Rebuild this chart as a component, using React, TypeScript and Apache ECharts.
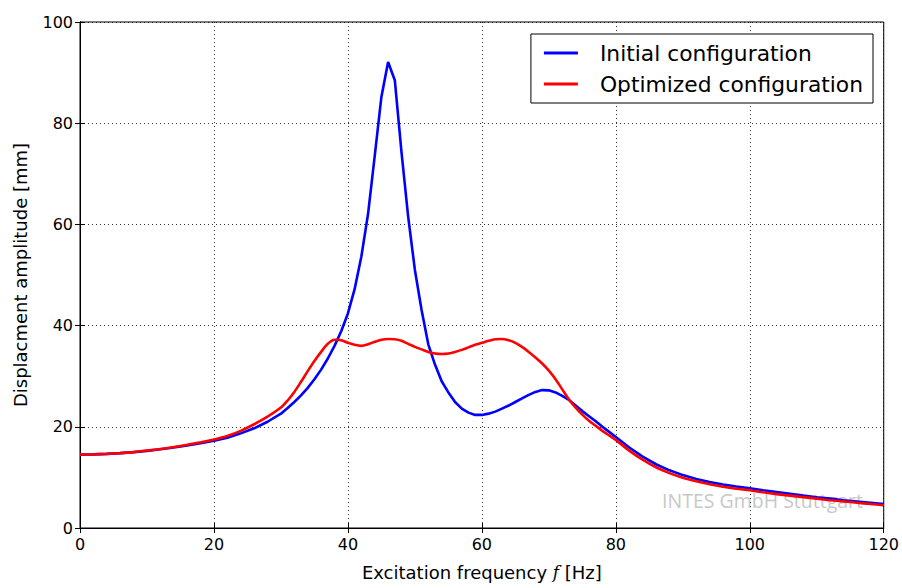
import React, { useEffect, useRef } from "react";
import * as echarts from "echarts";

const frequency = [
  0, 2, 4, 6, 8, 10, 12, 14, 16, 18, 20, 22, 24, 26, 28, 30,
  31, 32, 33, 34, 35, 36, 37, 38, 39, 40, 41, 42, 43, 44, 45, 46, 47, 48, 49, 50,
  51, 52, 53, 54, 55, 56, 57, 58, 59, 60, 61, 62, 63, 64, 65, 66, 67, 68, 69, 70,
  71, 72, 73, 74, 75, 76, 77, 78, 79, 80,
  82, 84, 86, 88, 90, 92, 94, 96, 98, 100, 102, 104, 106, 108, 110, 112, 114, 116, 118, 120,
];

const initialConfiguration = [
  14.5, 14.55, 14.65, 14.8, 15.0, 15.25, 15.55, 15.9, 16.3, 16.75, 17.25, 17.85, 18.7, 19.7, 21.0, 22.6,
  23.7, 24.9, 26.2, 27.7, 29.4, 31.3, 33.5, 36.0, 38.9, 42.4, 47.2, 53.6, 62.0, 73.5, 85.2, 92.1, 88.5, 74.3, 61.5, 51.0,
  43.1, 36.3, 32.3, 29.0, 26.8, 24.9, 23.6, 22.8, 22.35, 22.35, 22.6, 23.0, 23.6, 24.2, 24.9, 25.6, 26.3, 26.9, 27.25, 27.2,
  26.8, 26.1, 25.3, 24.2, 23.1, 22.1, 21.1, 20.0, 19.0, 18.0,
  15.9, 14.1, 12.6, 11.4, 10.45, 9.7, 9.1, 8.6, 8.2, 7.85, 7.45, 7.1, 6.75, 6.4, 6.08, 5.8, 5.5, 5.25, 5.0, 4.75,
];

const optimizedConfiguration = [
  14.5, 14.55, 14.65, 14.8, 15.0, 15.3, 15.6, 16.0, 16.45, 16.95, 17.5, 18.2, 19.2, 20.5, 22.0, 23.8,
  25.2, 26.9, 28.9, 31.0, 33.0, 34.8, 36.4, 37.2, 37.1, 36.6, 36.2, 36.0, 36.3, 36.8, 37.2, 37.35, 37.3, 37.0, 36.4, 35.8,
  35.3, 34.8, 34.5, 34.4, 34.5, 34.8, 35.2, 35.7, 36.2, 36.6, 37.0, 37.3, 37.35, 37.1, 36.6, 35.8, 34.8, 33.7, 32.5, 31.1,
  29.4, 27.4, 25.4, 23.8, 22.4, 21.2, 20.2, 19.2, 18.3, 17.4,
  15.3, 13.5, 12.0, 10.85, 9.95, 9.25, 8.65, 8.15, 7.75, 7.45, 7.05, 6.7, 6.4, 6.1, 5.8, 5.5, 5.25, 5.0, 4.75, 4.5,
];

const seriesNames = ["Initial configuration", "Optimized configuration"];
const seriesColors = ["#0000ff", "#ff0000"];
const xRange = [0, 120, 20];
const yRange = [0, 100, 20];

export default function App() {
  const ref = useRef<HTMLDivElement>(null);
  useEffect(() => {
    const chart = echarts.init(ref.current!, null, { renderer: "svg" });
    const tickFont = { fontFamily: "DejaVu Sans", fontSize: 16, color: "#000" };
    const gridLine = { show: true, lineStyle: { color: "#000", width: 0.8, type: [1, 3] as any } };
    const axisLine = { show: true, lineStyle: { color: "#000", width: 1 } };
    const axisTick = { show: true, inside: true, length: 5, lineStyle: { color: "#000", width: 1 } };
    chart.setOption({
      animation: false,
      backgroundColor: "#fff",
      grid: { left: 80, right: 18, top: 22, bottom: 60, show: true, borderColor: "#000", borderWidth: 1, backgroundColor: "transparent" },
      legend: {
        orient: "vertical",
        right: 29,
        top: 34,
        padding: [8, 10, 8, 13],
        itemGap: 9,
        itemWidth: 34,
        itemHeight: 3,
        icon: "rect",
        borderColor: "#000",
        borderWidth: 1,
        borderRadius: 0,
        backgroundColor: "#fff",
        textStyle: { fontFamily: "DejaVu Sans", fontSize: 21.8, color: "#000", padding: [0, 0, 0, 17] },
        data: seriesNames,
      },
      xAxis: [
        {
          type: "value",
          min: xRange[0],
          max: xRange[1],
          interval: xRange[2],
          axisLine,
          axisTick,
          axisLabel: { ...tickFont, margin: 8 },
          splitLine: gridLine,
          name: "{a|Excitation frequency }{f|f}{a| [Hz]}",
          nameLocation: "middle",
          nameGap: 35,
          nameTextStyle: {
            rich: {
              a: { fontFamily: "DejaVu Sans", fontSize: 18, color: "#000" },
              f: { fontFamily: "DejaVu Serif", fontStyle: "italic", fontSize: 17, color: "#000" },
            },
          },
        },
        {
          type: "value",
          position: "top",
          min: xRange[0],
          max: xRange[1],
          interval: xRange[2],
          axisLine,
          axisTick,
          axisLabel: { show: false },
          splitLine: { show: false },
        },
      ],
      yAxis: [
        {
          type: "value",
          min: yRange[0],
          max: yRange[1],
          interval: yRange[2],
          axisLine,
          axisTick,
          axisLabel: { ...tickFont, margin: 7 },
          splitLine: gridLine,
          name: "Displacment amplitude [mm]",
          nameLocation: "middle",
          nameGap: 51,
          nameTextStyle: { fontFamily: "DejaVu Sans", fontSize: 18, color: "#000" },
        },
        {
          type: "value",
          position: "right",
          min: yRange[0],
          max: yRange[1],
          interval: yRange[2],
          axisLine,
          axisTick,
          axisLabel: { show: false },
          splitLine: { show: false },
        },
      ],
      graphic: [
        {
          type: "text",
          right: 39,
          top: 490,
          z: 0,
          style: { text: "INTES GmbH Stuttgart", fill: "#c8c8c8", font: '19.5px "Open Sans"' },
        },
      ],
      series: [
        {
          name: seriesNames[0],
          type: "line",
          data: frequency.map((f, i) => [f, initialConfiguration[i]]),
          showSymbol: false,
          symbol: "none",
          color: seriesColors[0],
          lineStyle: { color: seriesColors[0], width: 2.6 },
          z: 3,
        },
        {
          name: seriesNames[1],
          type: "line",
          data: frequency.map((f, i) => [f, optimizedConfiguration[i]]),
          showSymbol: false,
          symbol: "none",
          smooth: 0.3,
          color: seriesColors[1],
          lineStyle: { color: seriesColors[1], width: 2.6 },
          z: 4,
        },
      ],
    });
    return () => chart.dispose();
  }, []);
  return <div ref={ref} style={{ position: "absolute", left: 0, top: 0, width: 902, height: 588 }} />;
}
